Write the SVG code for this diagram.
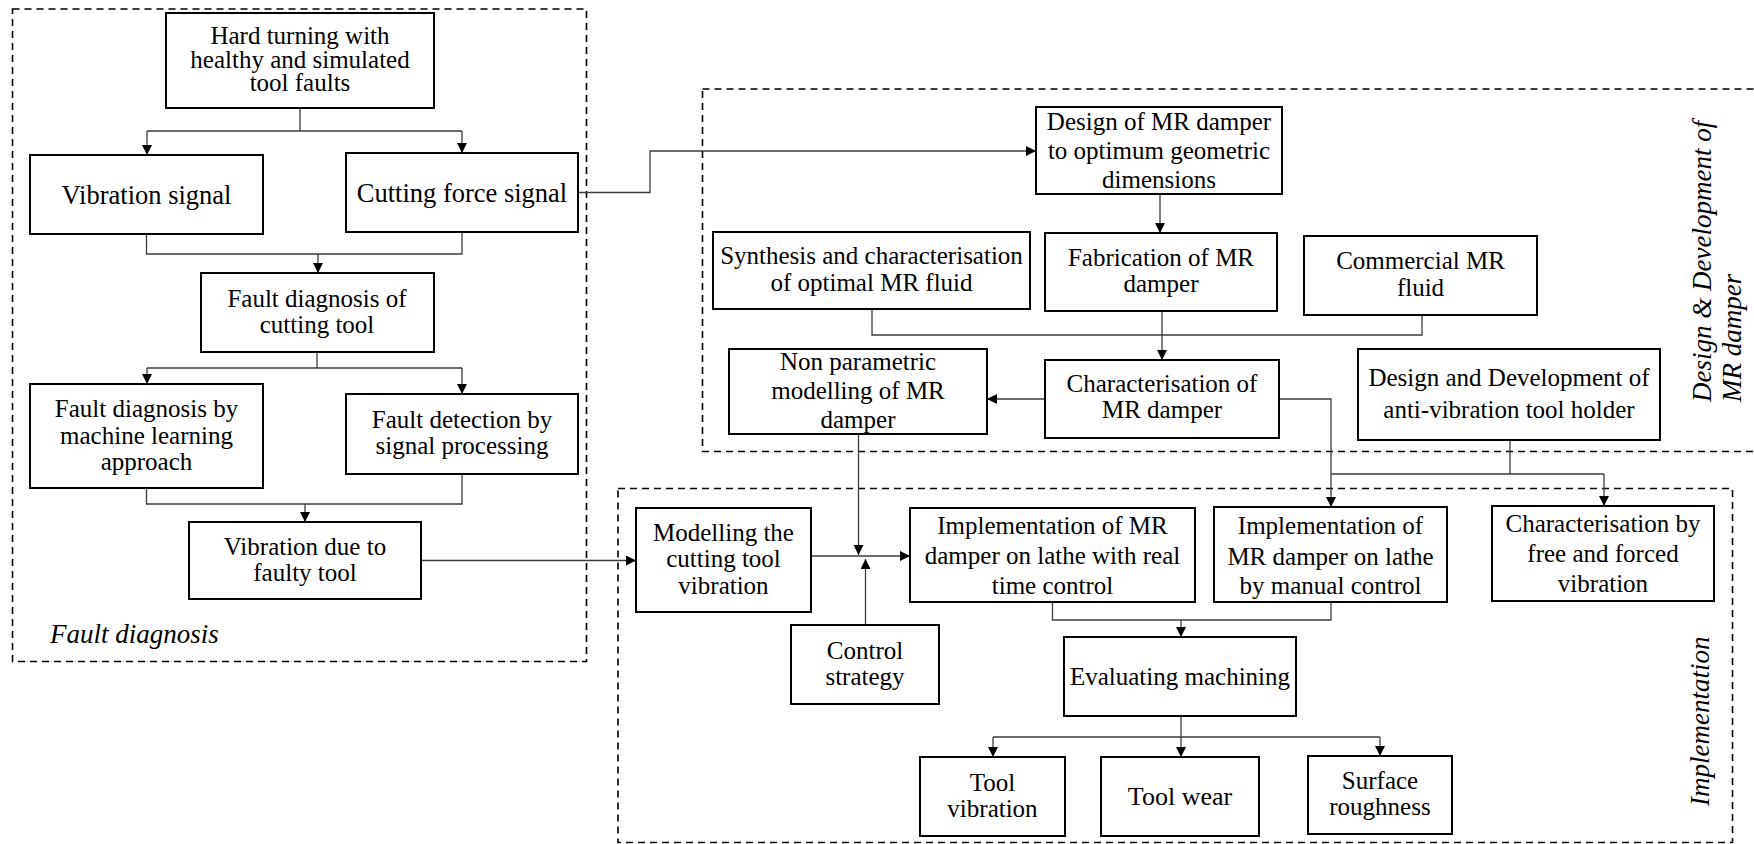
<svg xmlns="http://www.w3.org/2000/svg" width="1754" height="844" viewBox="0 0 1754 844">
  <style>
    .bg { fill: #ffffff; }
    .box { fill: #ffffff; stroke: #000000; stroke-width: 2; }
    .grp { fill: none; stroke: #000000; stroke-width: 1.6; stroke-dasharray: 7 5; }
    .t { font-family: "Liberation Serif", "Times New Roman", serif; font-size: 25px; fill: #000000; text-anchor: middle; }
    .big { font-size: 26.5px; }
    .lbl { font-family: "Liberation Serif", "Times New Roman", serif; font-size: 27px; font-style: italic; fill: #000000; }
    .c { fill: none; stroke: #3c3c3c; stroke-width: 1.3; }
    .ca { fill: none; stroke: #3c3c3c; stroke-width: 1.3; marker-end: url(#arr); }
  </style>
  <defs>
    <marker id="arr" markerUnits="userSpaceOnUse" markerWidth="11" markerHeight="11" refX="10" refY="5" orient="auto">
      <path d="M0,0 L10,5 L0,10 Z" fill="#000000"/>
    </marker>
  </defs>

  <rect class="bg" x="0" y="0" width="1754" height="844"/>

  <!-- grouping frames -->
  <g id="groups">
    <rect class="grp" x="12.5" y="9" width="574" height="652.5"/>
    <rect class="grp" x="702.5" y="89" width="1070" height="362.5"/>
    <rect class="grp" x="618" y="488.5" width="1114.5" height="354"/>
    <text class="lbl" x="50" y="643">Fault diagnosis</text>
    <text class="lbl" transform="translate(1711,402) rotate(-90)">Design &amp; Development of</text>
    <text class="lbl" transform="translate(1741,402) rotate(-90)">MR damper</text>
    <text class="lbl" transform="translate(1709,806) rotate(-90)">Implementation</text>
  </g>

  <!-- connectors -->
  <g id="connectors">
    <path class="c" d="M300,108 V131 M147,131 H462"/>
    <path class="ca" d="M147,131 V155"/>
    <path class="ca" d="M462,131 V153"/>
    <path class="c" d="M146.5,234 V254 H462 V231.5"/>
    <path class="ca" d="M318,254 V273"/>
    <path class="c" d="M317,352 V368 M147,368 H462"/>
    <path class="ca" d="M147,368 V384"/>
    <path class="ca" d="M462,368 V394"/>
    <path class="c" d="M146.5,488 V504 H462 V474"/>
    <path class="ca" d="M305,504 V522"/>
    <path class="ca" d="M421,560.5 H636"/>
    <path class="ca" d="M578,192.5 H650 V151 H1036"/>
    <path class="ca" d="M1160,194 V233"/>
    <path class="c" d="M872,309 V335 H1422 V315"/>
    <path class="ca" d="M1162,311 V360"/>
    <path class="ca" d="M1045,399 H987"/>
    <path class="ca" d="M1279,399 H1331 V507"/>
    <path class="c" d="M1510,440 V474 M1331,474 H1604"/>
    <path class="ca" d="M1604,474 V506"/>
    <path class="ca" d="M858.5,434 V555"/>
    <path class="ca" d="M811,556 H910"/>
    <path class="ca" d="M865.5,625 V559"/>
    <path class="c" d="M1052.5,602 V620 H1331 V602"/>
    <path class="ca" d="M1181,620 V637"/>
    <path class="c" d="M1181,716 V737 M993,737 H1380"/>
    <path class="ca" d="M993,737 V757"/>
    <path class="ca" d="M1181,737 V757"/>
    <path class="ca" d="M1380,737 V756"/>
  </g>

  <!-- fault diagnosis nodes -->
  <g id="n-hard-turning">
    <rect class="box" x="166" y="13" width="268" height="95"/>
    <text class="t" x="300" y="44">Hard turning with</text>
    <text class="t" x="300" y="67.5">healthy and simulated</text>
    <text class="t" x="300" y="91">tool faults</text>
  </g>
  <g id="n-vibration-signal">
    <rect class="box" x="30" y="155" width="233" height="79"/>
    <text class="t big" x="146.5" y="204">Vibration signal</text>
  </g>
  <g id="n-cutting-force">
    <rect class="box" x="346" y="153" width="232" height="79"/>
    <text class="t big" x="462" y="202">Cutting force signal</text>
  </g>
  <g id="n-fault-diagnosis-tool">
    <rect class="box" x="201" y="273" width="233" height="79"/>
    <text class="t" x="317" y="307">Fault diagnosis of</text>
    <text class="t" x="317" y="333">cutting tool</text>
  </g>
  <g id="n-machine-learning">
    <rect class="box" x="30" y="384" width="233" height="104"/>
    <text class="t" x="146.5" y="417">Fault diagnosis by</text>
    <text class="t" x="146.5" y="443.5">machine learning</text>
    <text class="t" x="146.5" y="470">approach</text>
  </g>
  <g id="n-signal-processing">
    <rect class="box" x="346" y="394" width="232" height="80"/>
    <text class="t" x="462" y="428">Fault detection by</text>
    <text class="t" x="462" y="454">signal processing</text>
  </g>
  <g id="n-faulty-tool">
    <rect class="box" x="189" y="522" width="232" height="77"/>
    <text class="t" x="305" y="555">Vibration due to</text>
    <text class="t" x="305" y="581">faulty tool</text>
  </g>

  <!-- MR damper design nodes -->
  <g id="n-design-damper">
    <rect class="box" x="1036" y="107" width="246" height="87"/>
    <text class="t" x="1159" y="130">Design of MR damper</text>
    <text class="t" x="1159" y="159">to optimum geometric</text>
    <text class="t" x="1159" y="188">dimensions</text>
  </g>
  <g id="n-synthesis">
    <rect class="box" x="713" y="232" width="317" height="77"/>
    <text class="t" x="871.5" y="264">Synthesis and characterisation</text>
    <text class="t" x="871.5" y="291">of optimal MR fluid</text>
  </g>
  <g id="n-fabrication">
    <rect class="box" x="1045" y="233" width="232" height="78"/>
    <text class="t" x="1161" y="266">Fabrication of MR</text>
    <text class="t" x="1161" y="292">damper</text>
  </g>
  <g id="n-commercial-fluid">
    <rect class="box" x="1304" y="236" width="233" height="79"/>
    <text class="t" x="1420.5" y="269">Commercial MR</text>
    <text class="t" x="1420.5" y="296">fluid</text>
  </g>
  <g id="n-non-parametric">
    <rect class="box" x="729" y="349" width="258" height="85"/>
    <text class="t" x="858" y="370">Non parametric</text>
    <text class="t" x="858" y="399">modelling of MR</text>
    <text class="t" x="858" y="428">damper</text>
  </g>
  <g id="n-characterisation-damper">
    <rect class="box" x="1045" y="360" width="234" height="78"/>
    <text class="t" x="1162" y="392">Characterisation of</text>
    <text class="t" x="1162" y="418">MR damper</text>
  </g>
  <g id="n-tool-holder">
    <rect class="box" x="1358" y="349" width="302" height="91"/>
    <text class="t" x="1509" y="386">Design and Development of</text>
    <text class="t" x="1509" y="418">anti-vibration tool holder</text>
  </g>

  <!-- implementation nodes -->
  <g id="n-modelling-vibration">
    <rect class="box" x="636" y="508" width="175" height="104"/>
    <text class="t" x="723.5" y="541">Modelling the</text>
    <text class="t" x="723.5" y="567">cutting tool</text>
    <text class="t" x="723.5" y="594">vibration</text>
  </g>
  <g id="n-control-strategy">
    <rect class="box" x="791" y="625" width="148" height="79"/>
    <text class="t" x="865" y="659">Control</text>
    <text class="t" x="865" y="685">strategy</text>
  </g>
  <g id="n-real-time">
    <rect class="box" x="910" y="508" width="285" height="94"/>
    <text class="t" x="1052.5" y="534">Implementation of MR</text>
    <text class="t" x="1052.5" y="564">damper on lathe with real</text>
    <text class="t" x="1052.5" y="594">time control</text>
  </g>
  <g id="n-manual">
    <rect class="box" x="1214" y="507" width="233" height="95"/>
    <text class="t" x="1330.5" y="534">Implementation of</text>
    <text class="t" x="1330.5" y="565">MR damper on lathe</text>
    <text class="t" x="1330.5" y="594">by manual control</text>
  </g>
  <g id="n-free-forced">
    <rect class="box" x="1492" y="506" width="222" height="95"/>
    <text class="t" x="1603" y="532">Characterisation by</text>
    <text class="t" x="1603" y="562">free and forced</text>
    <text class="t" x="1603" y="592">vibration</text>
  </g>
  <g id="n-evaluating">
    <rect class="box" x="1064" y="637" width="232" height="79"/>
    <text class="t" x="1180" y="685">Evaluating machining</text>
  </g>
  <g id="n-tool-vibration">
    <rect class="box" x="920" y="757" width="145" height="79"/>
    <text class="t" x="992.5" y="791">Tool</text>
    <text class="t" x="992.5" y="817">vibration</text>
  </g>
  <g id="n-tool-wear">
    <rect class="box" x="1101" y="757" width="158" height="79"/>
    <text class="t" x="1180" y="805" style="font-size:26px">Tool wear</text>
  </g>
  <g id="n-surface-roughness">
    <rect class="box" x="1308" y="756" width="144" height="78"/>
    <text class="t" x="1380" y="789">Surface</text>
    <text class="t" x="1380" y="815">roughness</text>
  </g>
</svg>
